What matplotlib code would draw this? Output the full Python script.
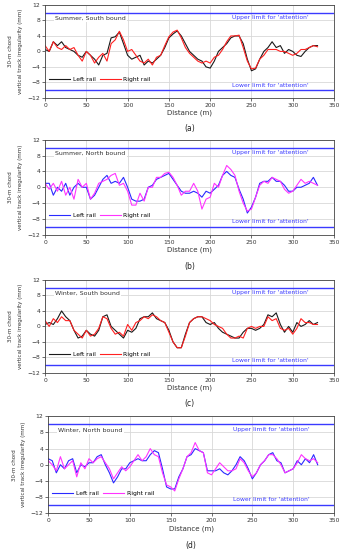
import numpy as np
import matplotlib.pyplot as plt

distance = np.arange(0, 331, 5)

# (a) Summer, South bound
a_left = [0.5, 0, 2.5, 1.5, 2.5, 1, 0.5, 0, -1, -1.5, 0, -1, -2, -3.5, -1, -0.5, 3.5, 3.8, 5, 2,
          -1, -2, -1.5, -1, -3.5, -2.5, -3, -2, -1, 1, 3.5, 4.5, 5.3, 4, 2, 0, -1, -2, -2.5, -4,
          -4.3, -2.5, 0, 1, 2, 3.5, 4, 4, 2, -2, -5, -4.5, -2, 0, 1, 2.5, 1, 1.5, -0.5, 0.5,
          0, -1, -1.3, 0, 1, 1.5, 1.5]
a_right = [1.5, 0, 2.5, 1, 0.5, 1.5, 0.5, 1, -1, -2.5, 0, -1, -3, -1.5, -0.5, -2.5, 2, 3, 5.2, 3,
           0, 0.5, -1, -2.5, -3, -2, -3.5, -1.5, -1, 1.5, 3.8, 5, 5.5, 3.5, 1, -0.5, -1.5, -2.5, -3, -2.5,
           -3, -1.5, -1, 0.5, 2.5, 4, 4, 4.2, 1, -2.5, -4.5, -4.3, -2, -1, 0.5, 0.5, 0.5, 0, 0, -0.5,
           -1, -0.5, 0.5, 0.5, 1, 1.5, 1.2]

# (b) Summer, North bound
b_left = [1, 1, -2, 0, -1, 1, -2, 0, 1, 0, 0, -3, -2, 0, 2, 3, 1, 1.5, 1, 2.5,
          0, -3, -3.5, -3.5, -3, 0, 0.5, 2, 2.5, 3, 3.5, 2, 0.5, -1, -1.5, -1.5, -1, -1.5, -2.5, -1,
          -1.5, -0.5, 0.5, 3, 4, 3, 2.5, -0.5, -3, -6.5, -5, -2.5, 1, 1.5, 1.5, 2.5, 1.5, 1.5, 0.5, -1,
          -1, 0, 0, 0.5, 1, 2.5, 0.5]
b_right = [1, -0.5, 1, -1, 1.5, -2, 0, -3, 2, 0, 1, -3, -1.5, 1, 1.5, 2, 3, 3.5, 0.5, 1,
           -1, -4.5, -4.5, -1.5, -3.5, 0, 0, 2.5, 2.5, 3.5, 3.8, 2.5, 0.5, -2, -1, -1, 1, -1, -5.5, -3,
           -2.5, 1, 0, 3, 5.5, 4.5, 3, -1, -4, -6, -5.5, -2.5, 0.5, 1.5, 1, 2.5, 2, 1.5, -0.5, -1.5,
           -1, 0.5, 2, 1, 1.5, 1, 0.5]

# (c) Winter, South bound
c_left = [0.5, 1, 0.5, 2, 4, 2.5, 1.5, -1, -3, -2.5, -1, -2, -2.5, -1, 2.5, 3, 0, -1, -2, -3,
          -1, -1.5, -0.5, 2, 2.5, 2.5, 3.5, 2, 1.5, 1, -1, -4, -5.5, -5.5, -2, 1, 2, 2.5, 2.5, 1,
          0.5, 1, -0.5, -1.5, -2, -2.5, -3, -3, -1.5, -0.5, -0.5, -1, -0.5, 0.5, 3, 2.5, 3.5, 0.5, -1.5, 0,
          -1.5, 1, 0, 0.5, 1.5, 0.5, 1]
c_right = [1.5, 0, 2, 1, 2.5, 1.5, 1.5, -1, -2, -3, -1, -2.5, -2, -0.5, 2.5, 2, -0.5, -2, -1.5, -2.5,
           0.5, -1, 1, 1.5, 2.5, 2, 3, 2.5, 1.5, 1, -1.5, -4, -5.5, -5.5, -2.5, 1, 2, 2.5, 2.5, 2,
           1.5, 0.5, 0, -0.5, -2, -3, -3, -2.5, -3, -0.5, 0, -0.5, 0, 0, 2.5, 1.5, 2, -0.5, -1, -0.5,
           -2, -0.5, 2, 1, 1, 0.5, 0.5]

# (d) Winter, North bound
d_left = [1.5, 1, -2, 0, -1, 1, 1.5, -2, 0, -0.5, 0.5, 0.5, 2, 2.5, 0, -2, -4.5, -3, -1, -1,
          0.5, 1, 1.5, 1, 1, 2.5, 3.5, 3, -1, -5.5, -6, -6, -3, -1, 2, 2.5, 4, 3.5, 3, -1.5,
          -1.5, -1.5, -1, -2, -2.5, -1.5, 0, 2, 1, -1, -3.5, -2, 0, 1, 2.5, 3, 1, 0.5, -2, -1.5,
          -1, 1, 0, 1.5, 0.5, 2.5, 0]
d_right = [1, 0, -1.5, 2, -1, 0, 1, -3, 0.5, -1, 1.5, 0.5, 1.5, 2, 0.5, -1, -3.5, -2, -0.5, -1.5,
           -0.5, 1, 2.5, 1, 2, 4, 2.5, 2, -2, -5, -5.5, -6.5, -3.5, -1, 2, 3, 5.5, 3.5, 3, -2,
           -2.5, -1, 0.5, -0.5, -1.5, -1.5, -1, 1.5, 0.5, -1.5, -3, -2, 0, 1, 2.5, 2.5, 1.5, 0, -2, -1.5,
           -1, 0.5, 2.5, 1.5, 1, 1.5, 0.5]

panels = [
    ("Summer, South bound", a_left, a_right, "#1a1a1a", "#ff2020", "(a)"),
    ("Summer, North bound", b_left, b_right, "#2a2aff", "#ff33ff", "(b)"),
    ("Winter, South bound", c_left, c_right, "#1a1a1a", "#ff2020", "(c)"),
    ("Winter, North bound", d_left, d_right, "#2a2aff", "#ff33ff", "(d)"),
]

# axes boxes in figure fractions [left, bottom, width, height]
boxes = [
    [0.131, 0.822, 0.840, 0.169],
    [0.131, 0.573, 0.840, 0.173],
    [0.131, 0.322, 0.840, 0.169],
    [0.140, 0.067, 0.831, 0.176],
]

limit_color = "#3a3aff"

fig = plt.figure(figsize=(3.44, 5.5), dpi=100)

for (title, left, right, c_left_col, c_right_col, tag), box in zip(panels, boxes):
    ax = fig.add_axes(box)
    ax.plot(distance, left, color=c_left_col, lw=0.8, label="Left rail")
    ax.plot(distance, right, color=c_right_col, lw=0.8, label="Right rail")
    ax.axhline(10, color=limit_color, lw=1.0)
    ax.axhline(-10, color=limit_color, lw=1.0)
    ax.text(273, 8.7, "Upper limit for 'attention'", color=limit_color,
            fontsize=4.3, ha="center", va="center")
    ax.text(273, -8.7, "Lower limit for 'attention'", color=limit_color,
            fontsize=4.3, ha="center", va="center")
    ax.text(12, 8.5, title, fontsize=4.5, ha="left", va="center", color="#333333",
            bbox=dict(facecolor="white", edgecolor="none", pad=1))
    ax.legend(loc="lower left", bbox_to_anchor=(0.0, 0.13), ncol=2, frameon=False,
              fontsize=4.3, handlelength=3.5, columnspacing=0.8, handletextpad=0.4,
              borderaxespad=0.3)
    ax.set_xlim(0, 350)
    ax.set_ylim(-12, 12)
    ax.set_xticks(np.arange(0, 351, 50))
    ax.set_yticks(np.arange(-12, 13, 4))
    ax.grid(True, color="#d8d8d8", lw=0.6)
    ax.set_axisbelow(True)
    ax.tick_params(labelsize=4.3, length=2, width=0.5, pad=1.5, colors="#333333")
    for s in ax.spines.values():
        s.set_linewidth(0.6)
        s.set_color("#444444")
    ax.set_xlabel("Distance (m)", fontsize=5, labelpad=1.5, color="#333333")
    ax.set_ylabel("30-m chord\nvertical track irregularity (mm)", fontsize=4,
                  labelpad=3, color="#333333", linespacing=2.2)
    ax.text(0.5, -0.33, tag, transform=ax.transAxes, fontsize=5.5,
            ha="center", va="center", color="#222222")

fig.savefig("out.png", dpi=100)
